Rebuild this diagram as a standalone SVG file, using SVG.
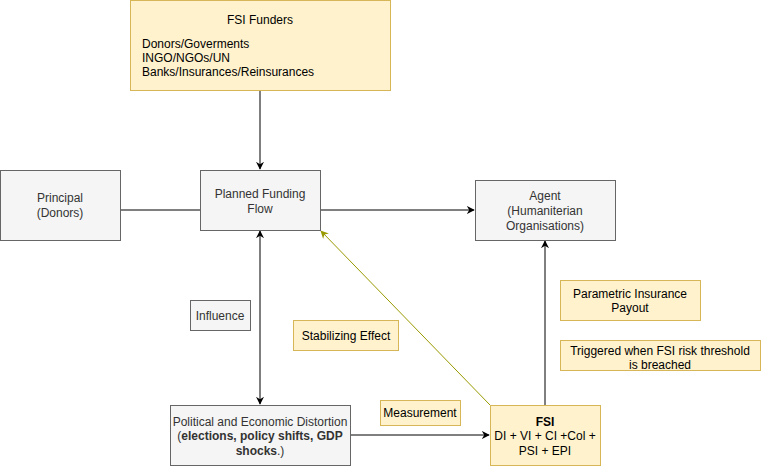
<svg xmlns="http://www.w3.org/2000/svg" width="761" height="466" viewBox="0 0 761 466">
<defs>
<style>
text{font-family:"Liberation Sans",Arial,sans-serif;font-size:12px;}
.y{fill:#fff2cc;stroke:#d6b656;stroke-width:1;}
.g{fill:#f5f5f5;stroke:#666666;stroke-width:1;}
.tg{fill:#333333;text-anchor:middle;}
.tk{fill:#000000;text-anchor:middle;}
.e{fill:none;stroke:#000000;stroke-width:1;}
.b{font-weight:bold;}
</style>
<marker id="ah" viewBox="0 0 10 10" refX="9" refY="5" markerWidth="8" markerHeight="8" orient="auto" markerUnits="userSpaceOnUse">
<path d="M0,0 L10,5 L0,10 L3,5 Z" fill="#000000"/>
</marker>
<marker id="ahs" viewBox="0 0 10 10" refX="9" refY="5" markerWidth="8" markerHeight="8" orient="auto-start-reverse" markerUnits="userSpaceOnUse">
<path d="M0,0 L10,5 L0,10 L3,5 Z" fill="#000000"/>
</marker>
<marker id="aho" viewBox="0 0 10 10" refX="9" refY="5" markerWidth="8" markerHeight="8" orient="auto" markerUnits="userSpaceOnUse">
<path d="M0,0 L10,5 L0,10 L3,5 Z" fill="#999900"/>
</marker>
</defs>
<g id="connectors">
<line class="e" x1="260" y1="90" x2="260" y2="169" marker-end="url(#ah)"/>
<line class="e" x1="120" y1="210" x2="200" y2="210"/>
<line class="e" x1="320" y1="210" x2="474" y2="210" marker-end="url(#ah)"/>
<line class="e" x1="260" y1="231" x2="260" y2="404" marker-start="url(#ahs)" marker-end="url(#ahs)"/>
<line class="e" x1="350" y1="435" x2="489" y2="435" marker-end="url(#ah)"/>
<line class="e" x1="545" y1="405" x2="545" y2="241" marker-end="url(#ah)"/>
<line x1="490" y1="405" x2="321" y2="231" stroke="#999900" stroke-width="1" marker-end="url(#aho)"/>
</g>
<g id="fsi-funders">
<rect class="y" x="130.5" y="0.5" width="260" height="90"/>
<text class="tk" x="260" y="24">FSI Funders</text>
<text x="142" y="48" fill="#000">Donors/Goverments</text>
<text x="142" y="62" fill="#000">INGO/NGOs/UN</text>
<text x="142" y="76" fill="#000">Banks/Insurances/Reinsurances</text>
</g>
<g id="principal">
<rect class="g" x="0.5" y="170.5" width="120" height="70"/>
<text class="tg" x="60" y="202">Principal</text>
<text class="tg" x="60" y="217">(Donors)</text>
</g>
<g id="planned-funding-flow">
<rect class="g" x="200.5" y="170.5" width="120" height="60"/>
<text class="tg" x="260" y="198">Planned Funding</text>
<text class="tg" x="260" y="213">Flow</text>
</g>
<g id="agent">
<rect class="g" x="475.5" y="180.5" width="140" height="60"/>
<text class="tg" x="545" y="200">Agent</text>
<text class="tg" x="545" y="215">(Humaniterian</text>
<text class="tg" x="545" y="230">Organisations)</text>
</g>
<g id="influence">
<rect class="g" x="190.5" y="300.5" width="60" height="30"/>
<text class="tg" x="220" y="320">Influence</text>
</g>
<g id="stabilizing-effect">
<rect class="y" x="293.5" y="320.5" width="105" height="30"/>
<text class="tk" x="346" y="340">Stabilizing Effect</text>
</g>
<g id="measurement">
<rect class="y" x="380.5" y="400.5" width="80" height="25"/>
<text class="tk" x="420" y="417">Measurement</text>
</g>
<g id="political">
<rect class="g" x="170.5" y="405.5" width="180" height="60"/>
<text class="tg" x="260" y="426">Political and Economic Distortion</text>
<text class="tg" x="260" y="440">(<tspan class="b">elections, policy shifts, GDP</tspan></text>
<text class="tg" x="260" y="455"><tspan class="b">shocks</tspan>.)</text>
</g>
<g id="fsi">
<rect class="y" x="490.5" y="405.5" width="110" height="60"/>
<text class="tk b" x="545" y="426">FSI</text>
<text class="tk" x="545" y="440">DI + VI + CI +Col +</text>
<text class="tk" x="545" y="455">PSI + EPI</text>
</g>
<g id="parametric">
<rect class="y" x="560.5" y="280.5" width="140" height="40"/>
<text class="tk" x="630" y="298">Parametric Insurance</text>
<text class="tk" x="630" y="312">Payout</text>
</g>
<g id="triggered">
<rect class="y" x="560.5" y="340.5" width="200" height="30"/>
<text class="tk" x="660" y="355">Triggered when FSI risk threshold</text>
<text class="tk" x="660" y="369">is breached</text>
</g>
</svg>
